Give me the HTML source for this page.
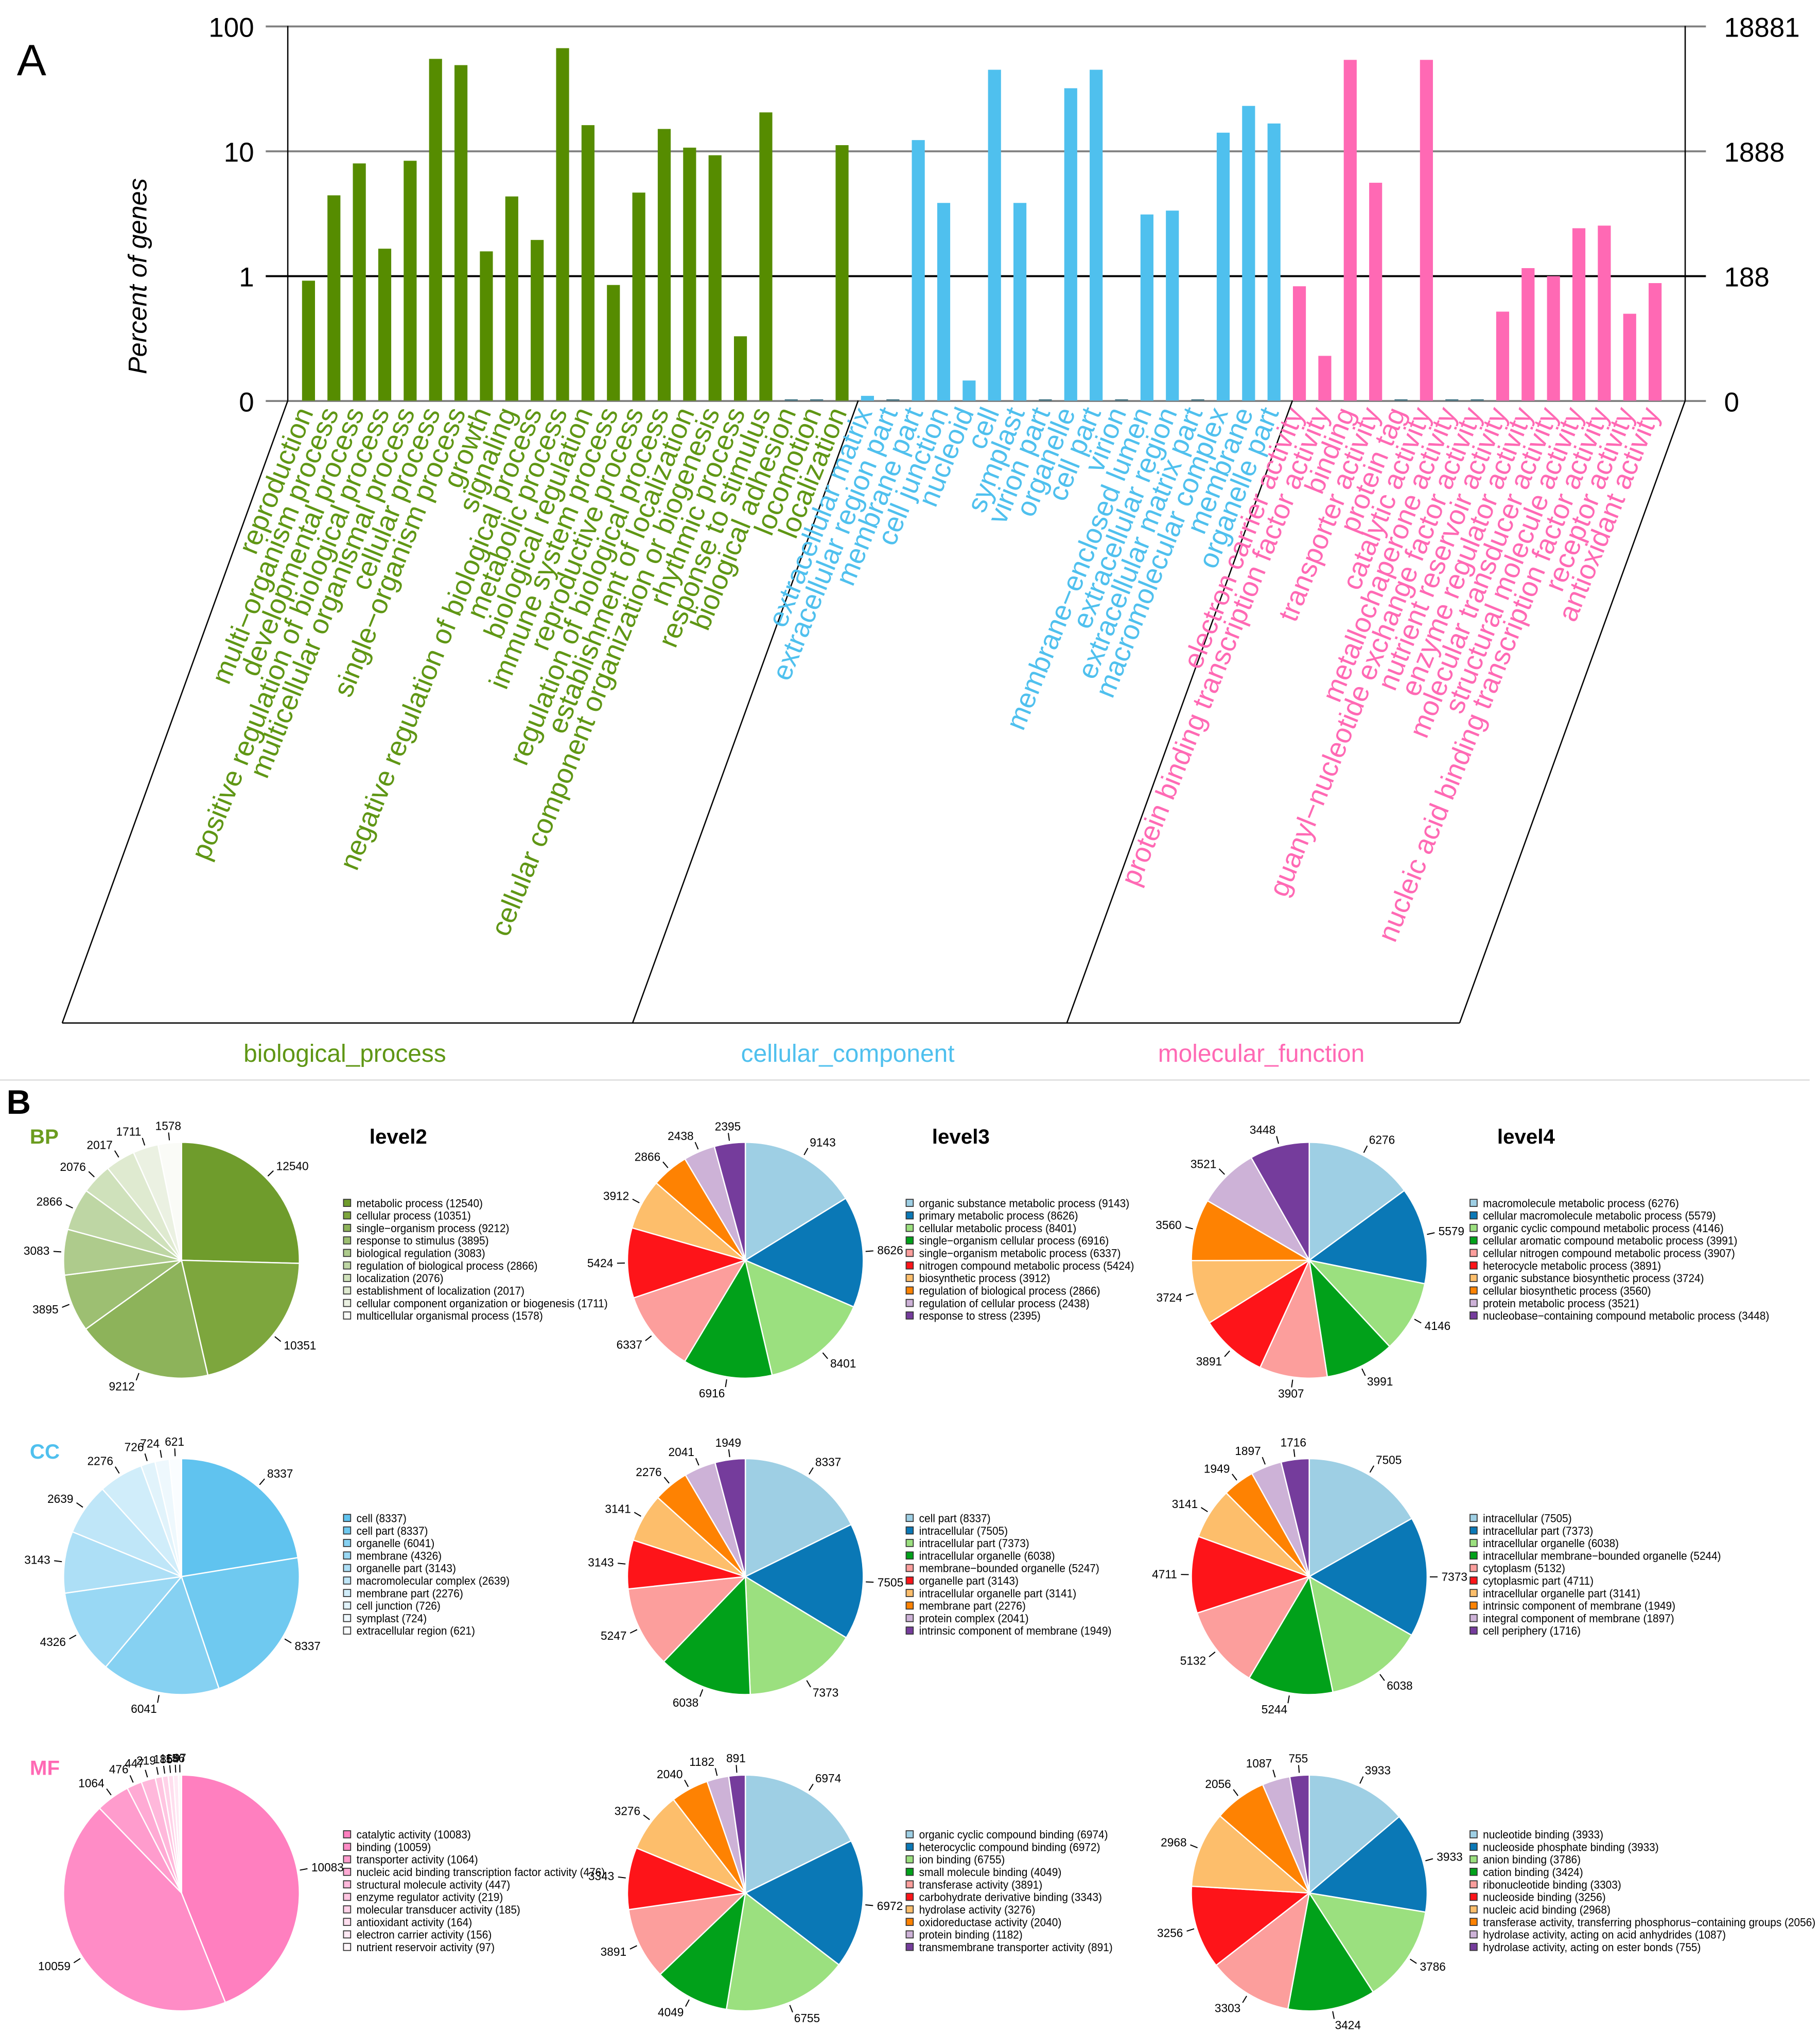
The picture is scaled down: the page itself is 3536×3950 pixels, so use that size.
<!DOCTYPE html>
<html><head><meta charset="utf-8"><style>
html,body{margin:0;padding:0;background:#fff}
svg{display:block}
text{font-family:"Liberation Sans",sans-serif}
.nar{font-family:"Liberation Sans Narrow","Liberation Sans",sans-serif}
</style></head><body>
<svg id="fig" xmlns="http://www.w3.org/2000/svg" width="3536" height="3950" viewBox="0 0 1404 1568" preserveAspectRatio="none">
<rect x="0" y="0" width="1404" height="1568" fill="#fff"/>
<text x="13" y="58" font-size="34">A</text>
<text transform="translate(113,213) rotate(-90)" font-size="20" font-style="italic" text-anchor="middle">Percent of genes</text>
<g id="plotA"></g>
<line x1="0" y1="833" x2="1396" y2="833" stroke="#ddd" stroke-width="1"/>
<text x="5" y="859" font-size="26" font-weight="bold" font-family="Liberation Serif, serif">B</text>
<text x="23" y="882" font-size="16" font-weight="bold" fill="#6b9c1f">BP</text>
<text x="23" y="1125" font-size="16" font-weight="bold" fill="#4fc0ee">CC</text>
<text x="23" y="1369" font-size="16" font-weight="bold" fill="#ff69b4">MF</text>
<text class="nar" x="285" y="882" font-size="16" font-weight="bold">level2</text>
<text class="nar" x="719" y="882" font-size="16" font-weight="bold">level3</text>
<text class="nar" x="1155" y="882" font-size="16" font-weight="bold">level4</text>
<g id="pies"></g>
</svg>
<script>
// ---- Panel A data ----
const bpTerms = ["reproduction","multi\u2212organism process","developmental process","positive regulation of biological process","multicellular organismal process","cellular process","single\u2212organism process","growth","signaling","negative regulation of biological process","metabolic process","biological regulation","immune system process","reproductive process","regulation of biological process","establishment of localization","cellular component organization or biogenesis","rhythmic process","response to stimulus","biological adhesion","locomotion","localization"];
const bpValues = [0.92,4.44,8.0,1.66,8.4,55,49,1.58,4.35,1.95,67,16.2,0.85,4.67,15.1,10.7,9.3,0.33,20.5,0.1,0.1,11.2];
const ccTerms = ["extracellular matrix","extracellular region part","membrane part","cell junction","nucleoid","cell","symplast","virion part","organelle","cell part","virion","membrane\u2212enclosed lumen","extracellular region","extracellular matrix part","macromolecular complex","membrane","organelle part"];
const ccValues = [0.11,0.1,12.3,3.86,0.146,45,3.86,0.1,32,45,0.1,3.12,3.35,0.1,14.1,23.1,16.7];
const mfTerms = ["electron carrier activity","protein binding transcription factor activity","binding","transporter activity","protein tag","catalytic activity","metallochaperone activity","guanyl\u2212nucleotide exchange factor activity","nutrient reservoir activity","enzyme regulator activity","molecular transducer activity","structural molecule activity","nucleic acid binding transcription factor activity","receptor activity","antioxidant activity"];
const mfValues = [0.83,0.23,54,5.6,0.1,54,0.1,0.1,0.52,1.16,1.0,2.42,2.54,0.50,0.88];
const leftTicks = ["100","10","1","0"];
const rightTicks = ["18881","1888","188","0"];
const tickValues = [100,10,1,0.1];
const groupNames = ["biological_process","cellular_component","molecular_function"];

const NS="http://www.w3.org/2000/svg";
function mk(tag,attrs,parent,txt){const e=document.createElementNS(NS,tag);for(const k in attrs)e.setAttribute(k,attrs[k]);if(txt!==undefined)e.textContent=txt;parent.appendChild(e);return e;}
function yA(v){const lv=Math.log10(Math.max(v,0.1));return 213-96.3*lv;}
function xA(i){return 238+i*19.6;}

const gA=document.getElementById('plotA');
tickValues.forEach((tv,k)=>{
  const y=yA(tv);
  const l=mk('line',{x1:205,y1:y,x2:1316,y2:y,stroke:tv===1?'#000':'#808080','stroke-width':1.5},gA);
  
  
  const t=mk('text',{x:196,y:y+8,'font-size':21,'text-anchor':'end'},gA,leftTicks[k]);
  
  
  const t2=mk('text',{x:1330,y:y+8,'font-size':21},gA,rightTicks[k]);
  
  
});
mk('line',{x1:222,y1:20,x2:222,y2:309,stroke:'#000','stroke-width':1},gA);
mk('line',{x1:1300,y1:20,x2:1300,y2:309,stroke:'#000','stroke-width':1},gA);
const frame=[[222,309,48,789],[662,309,488,789],[997,309,823,789],[1300,309,1126,789],[48,789,1126,789]];
frame.forEach(f=>{const l=mk('line',{x1:f[0],y1:f[1],x2:f[2],y2:f[3],stroke:'#000','stroke-width':1},gA);
  
  });

const groups=[[bpTerms,bpValues,'#568c00','#5f9614'],[ccTerms,ccValues,'#4fc0ee','#4fc0ee'],[mfTerms,mfValues,'#ff69b4','#ff69b4']];
let idx=0;
groups.forEach((g,gi)=>{
  g[0].forEach((term,j)=>{
    const v=g[1][j];const x=xA(idx);const y=yA(v);
    const r=mk('rect',{x:x-5,y:Math.min(y,308),width:10,height:Math.max(309-y,1),fill:v<=0.1?'#3b6f80':g[2]},gA);
    
    
    const t=mk('text',{transform:`translate(${x+4},318) rotate(-68)`,'font-size':21.5,'text-anchor':'end',fill:g[3]},gA,term);
    
    
    idx++;
  });
});
[[266,0],[654,1],[973,2]].forEach(p=>{
  const t=mk('text',{x:p[0],y:819,'font-size':19,'text-anchor':'middle',fill:groups[p[1]][3]},gA,groupNames[p[1]]);
  
  
});

// ---- Panel B data ----
const bpL2Labels=["metabolic process","cellular process","single\u2212organism process","response to stimulus","biological regulation","regulation of biological process","localization","establishment of localization","cellular component organization or biogenesis","multicellular organismal process"];
const bpL2Values=[12540,10351,9212,3895,3083,2866,2076,2017,1711,1578];
const bpL3Labels=["organic substance metabolic process","primary metabolic process","cellular metabolic process","single\u2212organism cellular process","single\u2212organism metabolic process","nitrogen compound metabolic process","biosynthetic process","regulation of biological process","regulation of cellular process","response to stress"];
const bpL3Values=[9143,8626,8401,6916,6337,5424,3912,2866,2438,2395];
const bpL4Labels=["macromolecule metabolic process","cellular macromolecule metabolic process","organic cyclic compound metabolic process","cellular aromatic compound metabolic process","cellular nitrogen compound metabolic process","heterocycle metabolic process","organic substance biosynthetic process","cellular biosynthetic process","protein metabolic process","nucleobase\u2212containing compound metabolic process"];
const bpL4Values=[6276,5579,4146,3991,3907,3891,3724,3560,3521,3448];
const ccL2Labels=["cell","cell part","organelle","membrane","organelle part","macromolecular complex","membrane part","cell junction","symplast","extracellular region"];
const ccL2Values=[8337,8337,6041,4326,3143,2639,2276,726,724,621];
const ccL3Labels=["cell part","intracellular","intracellular part","intracellular organelle","membrane\u2212bounded organelle","organelle part","intracellular organelle part","membrane part","protein complex","intrinsic component of membrane"];
const ccL3Values=[8337,7505,7373,6038,5247,3143,3141,2276,2041,1949];
const ccL4Labels=["intracellular","intracellular part","intracellular organelle","intracellular membrane\u2212bounded organelle","cytoplasm","cytoplasmic part","intracellular organelle part","intrinsic component of membrane","integral component of membrane","cell periphery"];
const ccL4Values=[7505,7373,6038,5244,5132,4711,3141,1949,1897,1716];
const mfL2Labels=["catalytic activity","binding","transporter activity","nucleic acid binding transcription factor activity","structural molecule activity","enzyme regulator activity","molecular transducer activity","antioxidant activity","electron carrier activity","nutrient reservoir activity"];
const mfL2Values=[10083,10059,1064,476,447,219,185,164,156,97];
const mfL3Labels=["organic cyclic compound binding","heterocyclic compound binding","ion binding","small molecule binding","transferase activity","carbohydrate derivative binding","hydrolase activity","oxidoreductase activity","protein binding","transmembrane transporter activity"];
const mfL3Values=[6974,6972,6755,4049,3891,3343,3276,2040,1182,891];
const mfL4Labels=["nucleotide binding","nucleoside phosphate binding","anion binding","cation binding","ribonucleotide binding","nucleoside binding","nucleic acid binding","transferase activity, transferring phosphorus\u2212containing groups","hydrolase activity, acting on acid anhydrides","hydrolase activity, acting on ester bonds"];
const mfL4Values=[3933,3933,3786,3424,3303,3256,2968,2056,1087,755];

const greens=['#6f9c2c','#7da63d','#8db35a','#9dbf72','#aecb8c','#bed6a4','#cfe1bb','#dfead0','#ebf1e2','#fafbf7'];
const blues=['#60c3ef','#6fc9f0','#86d1f2','#99d8f4','#addff6','#bfe6f8','#d0edfa','#e1f3fb','#eef8fd','#fafdff'];
const pinks=['#ff7fbf','#ff8cc6','#ff9ccd','#ffaad4','#ffb8db','#ffc5e1','#ffd2e8','#ffdeee','#ffe9f4','#fff6fa'];
const paired=['#9ecfe4','#0a78b6','#9be07f','#01a11a','#fc9e9c','#fe1419','#fdbe6b','#fe8202','#cdb2d7','#753c9c'];

const gP=document.getElementById('pies');
function pie(cx,cy,labels,values,cols,legX,legY,name){
  const g=mk('g',{},gP);
  
  
  const R=91;const tot=values.reduce((a,b)=>a+b,0);let a0=0;
  values.forEach((v,i)=>{
    const a1=a0+v/tot*2*Math.PI;
    const p=(a)=>[cx+R*Math.sin(a),cy-R*Math.cos(a)];
    const s=p(a0),e=p(a1);const large=(a1-a0)>Math.PI?1:0;
    const path=mk('path',{d:`M${cx},${cy} L${s[0]},${s[1]} A${R},${R} 0 ${large} 1 ${e[0]},${e[1]} Z`,fill:cols[i],stroke:'#fff','stroke-width':1},g);
    
    
    const am=(a0+a1)/2;const sn=Math.sin(am),cs=-Math.cos(am);
    mk('line',{x1:cx+(R+2)*sn,y1:cy+(R+2)*cs,x2:cx+(R+8)*sn,y2:cy+(R+8)*cs,stroke:'#000','stroke-width':0.8},g);
    const t=mk('text',{class:'nar',x:cx+(R+11)*sn,y:cy+(R+13)*cs+3,'font-size':9,'text-anchor':sn>0.15?'start':(sn<-0.15?'end':'middle')},g,String(v));
    
    
    a0=a1;
  });
  labels.forEach((lb,i)=>{
    const y=legY+i*9.65;
    const r=mk('rect',{x:legX,y:y-5,width:5.5,height:5.5,fill:cols[i],stroke:'#333','stroke-width':0.7},g);
    
    
    const t=mk('text',{class:'nar',transform:`translate(${legX+10},${y+1}) scale(0.94,1)`,'font-size':8.8},g,`${lb} (${values[i]})`);
    
    
  });
}
const rows=[972,1216,1460];
pie(140,rows[0],bpL2Labels,bpL2Values,greens,265,930,'bp-level2-pie');
pie(575,rows[0],bpL3Labels,bpL3Values,paired,699,930,'bp-level3-pie');
pie(1010,rows[0],bpL4Labels,bpL4Values,paired,1134,930,'bp-level4-pie');
pie(140,rows[1],ccL2Labels,ccL2Values,blues,265,1173,'cc-level2-pie');
pie(575,rows[1],ccL3Labels,ccL3Values,paired,699,1173,'cc-level3-pie');
pie(1010,rows[1],ccL4Labels,ccL4Values,paired,1134,1173,'cc-level4-pie');
pie(140,rows[2],mfL2Labels,mfL2Values,pinks,265,1417,'mf-level2-pie');
pie(575,rows[2],mfL3Labels,mfL3Values,paired,699,1417,'mf-level3-pie');
pie(1010,rows[2],mfL4Labels,mfL4Values,paired,1134,1417,'mf-level4-pie');
</script>
</body></html>
